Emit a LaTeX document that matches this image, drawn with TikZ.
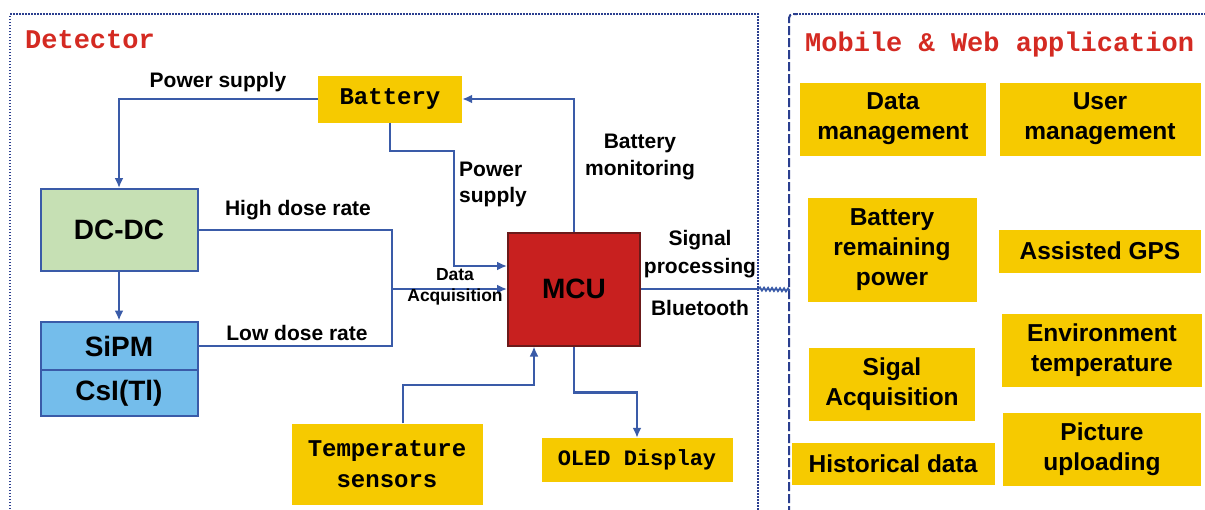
\documentclass[tikz,border=0pt]{standalone}
\usepackage{fontspec}
\setmainfont{Liberation Sans}
\newfontfamily\monof{Liberation Mono}
\usetikzlibrary{arrows.meta,decorations.pathmorphing}
\definecolor{lineblue}{HTML}{3A5BA8}
\definecolor{frameblue}{HTML}{2B3F8F}
\definecolor{boxyellow}{HTML}{F6CA00}
\definecolor{boxgreen}{HTML}{C6E0B4}
\definecolor{boxblue}{HTML}{74BDEB}
\definecolor{boxred}{HTML}{C8201F}
\definecolor{mcuborder}{HTML}{6B1A1A}
\definecolor{titlered}{HTML}{D42A22}
\begin{document}
\begin{tikzpicture}[x=1pt,y=-1pt,
  conn/.style={draw=lineblue, line width=2.4pt},
  arr/.style={conn, -{Latex[length=10pt,width=9pt]}},
  sz/.style 2 args={minimum width=#1pt, minimum height=#2pt},
  ybox/.style={fill=boxyellow, inner sep=0pt, align=center, font=\bfseries\fontsize{24.5}{30}\selectfont},
  mbox/.style={fill=boxyellow, inner sep=0pt, align=center, font=\monof\bfseries\fontsize{24}{31}\selectfont},
  dbox/.style={draw=lineblue, line width=2pt, inner sep=0pt, align=center, font=\bfseries\fontsize{28}{30}\selectfont},
  lbl/.style={inner sep=0pt, align=center, font=\bfseries\fontsize{21}{27}\selectfont},
  title/.style={inner sep=0pt, text=titlered, font=\monof\bfseries\fontsize{27}{30}\selectfont},
  frame/.style={draw=frameblue, line width=2.5pt}
]
\useasboundingbox[fill=white] (0,0) rectangle (1205,509);

% frames
\draw[frame, dash pattern=on 1.5pt off 1.5pt] (10,515) -- (10,14) -- (758,14) -- (758,515);
\draw[frame, dash pattern=on 1.5pt off 1.5pt] (793,14) -- (1210,14);
\draw[frame, line width=2pt, dash pattern=on 9pt off 3pt, rounded corners=4pt] (789,515) -- (789,14) -- (797,14);

% titles
\node[title, anchor=west] (tdet) at (25,40) {Detector};
\node[title, anchor=west] (tmob) at (805,45) {Mobile \& Web application};

% detector nodes
\node[mbox, sz={144}{47}] (bat) at (390,99) {Battery};
\node[dbox, fill=boxgreen, sz={157}{82}] (dcdc) at (119,230) {DC-DC};
\node[dbox, fill=boxblue, sz={157}{49}] (sipm) at (119,346) {SiPM};
\node[dbox, fill=boxblue, sz={157}{46}] (csi) at (119,393) {CsI(Tl)};
\node[dbox, draw=mcuborder, fill=boxred, sz={132}{113}] (mcu) at (574,289) {MCU};
\node[mbox, sz={191}{81}] (temp) at (387,464) {Temperature\\sensors};
\node[mbox, sz={191}{44}, font=\monof\bfseries\fontsize{22}{28}\selectfont] (oled) at (637,460) {OLED Display};

% application nodes
\node[ybox, sz={186}{73}] (dm) at (893,119) {Data\\management};
\node[ybox, sz={201}{73}] (um) at (1100,119) {User\\management};
\node[ybox, sz={169}{104}] (brp) at (892,250) {Battery\\remaining\\power};
\node[ybox, sz={202}{43}] (gps) at (1100,251) {Assisted GPS};
\node[ybox, sz={200}{73}] (env) at (1102,350) {Environment\\temperature};
\node[ybox, sz={166}{73}] (sig) at (892,384) {Sigal\\Acquisition};
\node[ybox, sz={203}{42}] (hist) at (893,464) {Historical data};
\node[ybox, sz={198}{73}] (pic) at (1102,449) {Picture\\uploading};

% connectors
\draw[arr] (bat.west) -| (dcdc.north);
\node[lbl] (lps1) at (218,82) {Power supply};

\draw[arr] (bat.south) -- (390,151) -- (454,151) -- (454,266) -- (mcu.west |- 0,266);
\node[lbl, align=left, font=\bfseries\fontsize{21}{26}\selectfont] (lps2) at (493,184) {Power\\supply};

\draw[arr] (mcu.north) |- (bat.east);
\node[lbl] (lbm) at (640,157) {Battery\\monitoring};

\draw[arr] (dcdc.south) -- (sipm.north);

\coordinate (join) at (392,289);
\draw[conn] (dcdc.east) -| (join) |- (sipm.east);
\draw[arr] (join) -- (mcu.west);
\node[lbl] (lhd) at (298,210) {High dose rate};
\node[lbl] (lld) at (297,333) {Low dose rate};
\node[lbl, font=\bfseries\fontsize{17.5}{21}\selectfont] (lda) at (455,287) {Data\\Acquisition};

\draw[arr] (temp.north -| 403,0) |- (534,385) -- (mcu.south -| 534,0);
\draw[arr] (mcu.south) -- ++(0,46) -| (oled.north);

\coordinate (bt) at (790,290);
\draw[conn] (mcu.east) -- (759,289);
\draw[conn, line width=1.8pt, decorate, decoration={zigzag, segment length=4pt, amplitude=1.5pt}] (759,289) -- (bt);
\node[lbl, font=\bfseries\fontsize{21}{28}\selectfont] (lsp) at (700,254) {Signal\\processing};
\node[lbl] (lbt) at (700,308) {Bluetooth};
\end{tikzpicture}
\end{document}
